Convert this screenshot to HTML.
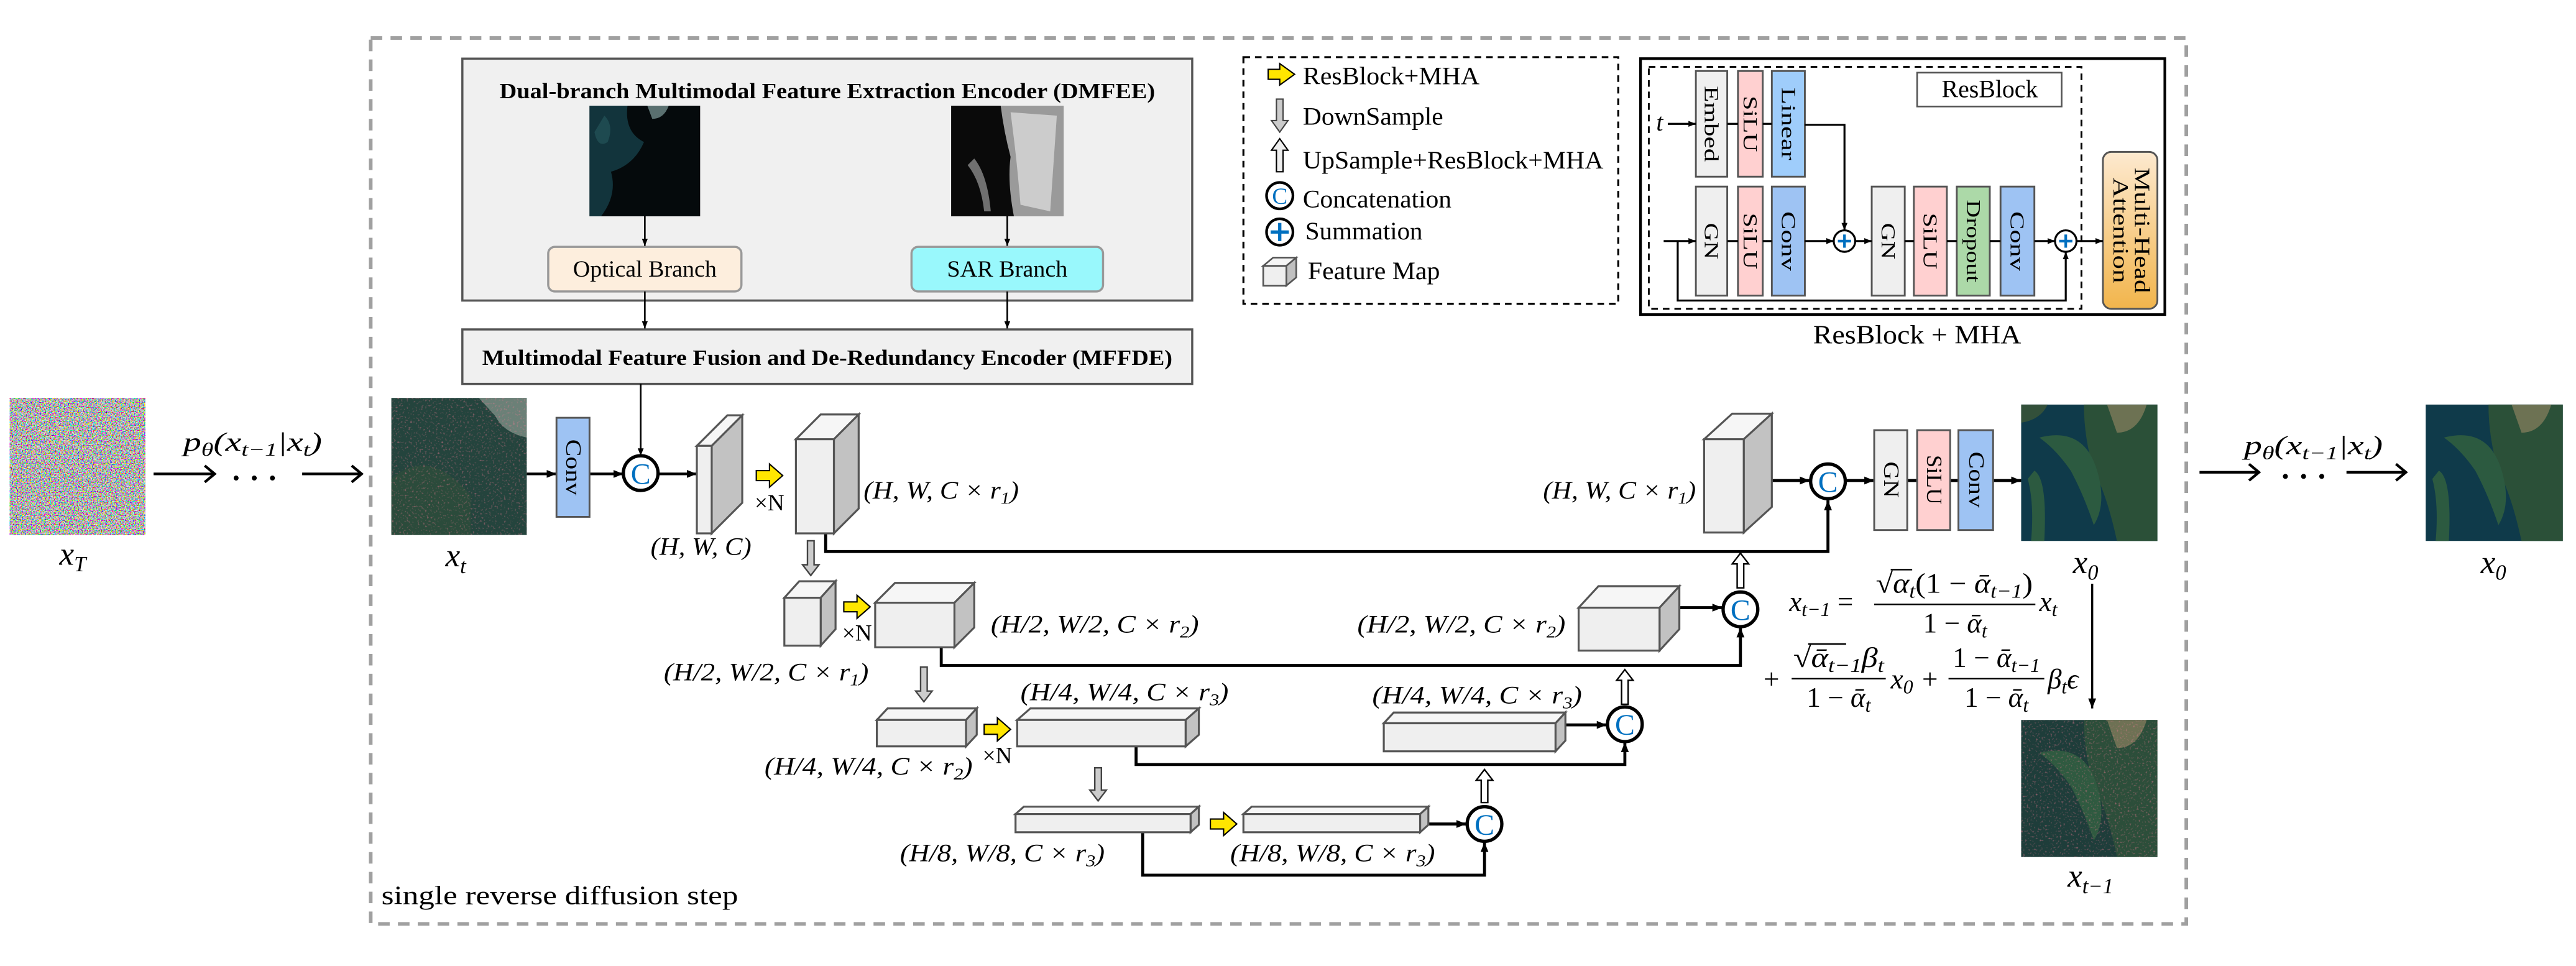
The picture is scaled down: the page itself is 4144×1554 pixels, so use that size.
<!DOCTYPE html>
<html><head><meta charset="utf-8"><style>
html,body{margin:0;padding:0;background:#fff;}
svg{display:block;font-family:"Liberation Serif",serif;}
text{font-family:"Liberation Serif",serif;}
.m{font-style:italic;}
</style></head><body>
<svg width="4144" height="1554" viewBox="0 0 1560 585" xmlns="http://www.w3.org/2000/svg" font-family="Liberation Serif, serif">
<defs>
<marker id="a" viewBox="0 0 10 10" refX="10" refY="5" markerWidth="6" markerHeight="6" markerUnits="userSpaceOnUse" orient="auto"><path d="M0,1 L10,5 L0,9z" fill="#000"/></marker>
<marker id="s" viewBox="0 0 10 10" refX="10" refY="5" markerWidth="4.5" markerHeight="4.5" markerUnits="userSpaceOnUse" orient="auto"><path d="M0,1 L10,5 L0,9z" fill="#000"/></marker>
<filter id="nz" x="0" y="0" width="100%" height="100%"><feTurbulence type="fractalNoise" baseFrequency="1.3" numOctaves="1" seed="4"/><feColorMatrix type="matrix" values="3.2 -0.6 -0.6 0 -0.5  -0.6 3.2 -0.6 0 -0.5  -0.6 -0.6 3.2 0 -0.5  0 0 0 0 1"/></filter>
<filter id="sp" x="0" y="0" width="100%" height="100%"><feTurbulence type="fractalNoise" baseFrequency="0.9" numOctaves="1" seed="7"/><feColorMatrix type="matrix" values="0 0 0 0 0.85  0 0 0 0 0.2  0 0 0 0 0.3  3 0 0 0 -1.7"/></filter>
<linearGradient id="og" x1="0" y1="0" x2="0" y2="1"><stop offset="0" stop-color="#fde9cf"/><stop offset="1" stop-color="#f2b54c"/></linearGradient>
</defs>

<rect x="224.5" y="23" width="1099.5" height="536.5" fill="none" stroke="#a0a0a0" stroke-width="2.2" stroke-dasharray="7,5"/>

<!-- DMFEE -->
<rect x="280" y="35.5" width="442" height="146.5" fill="#f0f0f0" stroke="#555" stroke-width="1.3"/>
<text x="501" y="59.5" text-anchor="middle" font-weight="bold" font-size="13" textLength="397" lengthAdjust="spacingAndGlyphs">Dual-branch Multimodal Feature Extraction Encoder (DMFEE)</text>
<rect x="357" y="64" width="67" height="67" fill="#050a0c"/>
<path d="M357,64 L380,64 Q378,80 390,86 Q384,100 370,104 Q374,118 364,131 L357,131Z" fill="#12343c"/>
<path d="M392,64 L405,64 Q402,72 395,72Z" fill="#5a7070"/>
<path d="M366,70 Q372,76 368,86 Q362,90 360,80Z" fill="#1e4a50"/>
<rect x="576" y="64" width="68" height="67" fill="#0a0a0a"/>
<path d="M606,64 L644,64 L644,131 L614,131 Q610,110 612,95 Q608,80 606,64Z" fill="#9a9a9a"/>
<path d="M612,68 L640,70 L636,128 L618,124 Q616,100 614,84Z" fill="#d8d8d8" opacity="0.8"/>
<path d="M586,100 Q594,110 596,128 L600,128 Q598,106 590,96Z" fill="#707070"/>
<line x1="390.5" y1="131" x2="390.5" y2="149" stroke="#000" stroke-width="1" marker-end="url(#s)"/>
<line x1="610" y1="131" x2="610" y2="149" stroke="#000" stroke-width="1" marker-end="url(#s)"/>
<rect x="332" y="149.5" width="117" height="27" rx="4" fill="#fdeedd" stroke="#999" stroke-width="1.3"/>
<text x="390.5" y="167.5" text-anchor="middle" font-size="14" textLength="87" lengthAdjust="spacingAndGlyphs">Optical Branch</text>
<rect x="552" y="149.5" width="116" height="27" rx="4" fill="#99f8fc" stroke="#999" stroke-width="1.3"/>
<text x="610" y="167.5" text-anchor="middle" font-size="14" textLength="73" lengthAdjust="spacingAndGlyphs">SAR Branch</text>
<line x1="390.5" y1="176.5" x2="390.5" y2="199" stroke="#000" stroke-width="1" marker-end="url(#s)"/>
<line x1="610" y1="176.5" x2="610" y2="199" stroke="#000" stroke-width="1" marker-end="url(#s)"/>
<rect x="280" y="199.5" width="442" height="33" fill="#f0f0f0" stroke="#555" stroke-width="1.3"/>
<text x="501" y="221" text-anchor="middle" font-weight="bold" font-size="13" textLength="418" lengthAdjust="spacingAndGlyphs">Multimodal Feature Fusion and De-Redundancy Encoder (MFFDE)</text>

<!-- Legend -->
<rect x="753" y="34.6" width="227" height="149.4" fill="none" stroke="#000" stroke-width="1.2" stroke-dasharray="4,3"/>
<polygon points="768,42 775,42 775,38.5 784,45 775,51.5 775,48 768,48" fill="#ffe600" stroke="#000" stroke-width="0.8"/>
<text x="789" y="51" font-size="15" textLength="107" lengthAdjust="spacingAndGlyphs">ResBlock+MHA</text>
<polygon points="773,60 777,60 777,73 780,73 775,80 770,73 773,73" fill="#ccc" stroke="#444" stroke-width="0.8"/>
<text x="789" y="75.5" font-size="15" textLength="85" lengthAdjust="spacingAndGlyphs">DownSample</text>
<polygon points="775,84 780,91 777,91 777,104 773,104 773,91 770,91" fill="#eee" stroke="#000" stroke-width="0.8"/>
<text x="789" y="102" font-size="15" textLength="182" lengthAdjust="spacingAndGlyphs">UpSample+ResBlock+MHA</text>
<circle cx="775" cy="118.5" r="8" fill="#fff" stroke="#000" stroke-width="1.6"/>
<text x="775" y="123.5" text-anchor="middle" font-size="14" fill="#0070c0">C</text>
<text x="789" y="125.5" font-size="15" textLength="90" lengthAdjust="spacingAndGlyphs">Concatenation</text>
<circle cx="775" cy="140.5" r="8" fill="#fff" stroke="#000" stroke-width="1.6"/>
<path d="M769.5,140.5 H780.5 M775,135 V146" stroke="#0070c0" stroke-width="2"/>
<text x="790.5" y="145" font-size="15" textLength="71" lengthAdjust="spacingAndGlyphs">Summation</text>
<polygon points="765,161 771,156 785,156 779,161" fill="#f5f5f5" stroke="#555" stroke-width="1"/>
<polygon points="779,161 785,156 785,168 779,173" fill="#c0c0c0" stroke="#555" stroke-width="1"/>
<rect x="765" y="161" width="14" height="12" fill="#efefef" stroke="#555" stroke-width="1"/>
<text x="792" y="169" font-size="15" textLength="80" lengthAdjust="spacingAndGlyphs">Feature Map</text>

<!-- ResBlock + MHA -->
<rect x="993.5" y="35.5" width="317.5" height="155" fill="none" stroke="#000" stroke-width="1.6"/>
<rect x="998.5" y="40.5" width="262" height="146.5" fill="none" stroke="#000" stroke-width="1.1" stroke-dasharray="4,3"/>
<rect x="1161" y="44" width="87.5" height="20.5" fill="#fff" stroke="#555" stroke-width="1"/>
<text x="1205" y="59" text-anchor="middle" font-size="15">ResBlock</text>
<g stroke="#555" stroke-width="1.1">
<rect x="1027" y="43" width="19" height="64" fill="#efefef"/>
<rect x="1052.5" y="43" width="15" height="64" fill="#ffd0d0"/>
<rect x="1073" y="43" width="20" height="64" fill="#9fcdfb"/>
<rect x="1027" y="113" width="19" height="66" fill="#efefef"/>
<rect x="1052.5" y="113" width="15" height="66" fill="#ffd0d0"/>
<rect x="1073" y="113" width="20" height="66" fill="#9ec3f3"/>
<rect x="1133.5" y="113" width="20" height="66" fill="#efefef"/>
<rect x="1159" y="113" width="20" height="66" fill="#ffd0d0"/>
<rect x="1185" y="113" width="20" height="66" fill="#acd9a8"/>
<rect x="1211.5" y="113" width="20.5" height="66" fill="#9ec3f3"/>
</g>
<rect x="1273.5" y="92" width="33" height="95" rx="5" fill="url(#og)" stroke="#555" stroke-width="1.1"/>
<g font-size="12" text-anchor="middle">
<text transform="translate(1036.5,75) rotate(90)" y="4" textLength="46" lengthAdjust="spacingAndGlyphs">Embed</text>
<text transform="translate(1060,75) rotate(90)" y="4" textLength="34" lengthAdjust="spacingAndGlyphs">SiLU</text>
<text transform="translate(1083,75) rotate(90)" y="4" textLength="44" lengthAdjust="spacingAndGlyphs">Linear</text>
<text transform="translate(1036.5,146) rotate(90)" y="4" textLength="22" lengthAdjust="spacingAndGlyphs">GN</text>
<text transform="translate(1060,146) rotate(90)" y="4" textLength="34" lengthAdjust="spacingAndGlyphs">SiLU</text>
<text transform="translate(1083,146) rotate(90)" y="4" textLength="36" lengthAdjust="spacingAndGlyphs">Conv</text>
<text transform="translate(1143.5,146) rotate(90)" y="4" textLength="22" lengthAdjust="spacingAndGlyphs">GN</text>
<text transform="translate(1169,146) rotate(90)" y="4" textLength="34" lengthAdjust="spacingAndGlyphs">SiLU</text>
<text transform="translate(1195,146) rotate(90)" y="4" textLength="50" lengthAdjust="spacingAndGlyphs">Dropout</text>
<text transform="translate(1221.7,146) rotate(90)" y="4" textLength="36" lengthAdjust="spacingAndGlyphs">Conv</text>
<text transform="translate(1290,139.5) rotate(90)" y="-3" font-size="13" textLength="76" lengthAdjust="spacingAndGlyphs">Multi-Head</text>
<text transform="translate(1290,139.5) rotate(90)" y="10" font-size="13" textLength="64" lengthAdjust="spacingAndGlyphs">Attention</text>
</g>
<text x="1003" y="79" class="m" font-size="15">t</text>
<g stroke="#000" stroke-width="1.2" fill="none">
<line x1="1010" y1="75" x2="1027" y2="75" marker-end="url(#s)"/>
<line x1="1046" y1="75" x2="1052.5" y2="75"/>
<line x1="1067.5" y1="75" x2="1073" y2="75"/>
<polyline points="1093,75.6 1117,75.6 1117,139.5" marker-end="url(#s)"/>
<line x1="1007.5" y1="146" x2="1027" y2="146" marker-end="url(#s)"/>
<line x1="1046" y1="146" x2="1052.5" y2="146"/>
<line x1="1067.5" y1="146" x2="1073" y2="146"/>
<line x1="1093" y1="146" x2="1110.5" y2="146" marker-end="url(#s)"/>
<line x1="1123.5" y1="146" x2="1133.5" y2="146" marker-end="url(#s)"/>
<line x1="1153.5" y1="146" x2="1159" y2="146"/>
<line x1="1179" y1="146" x2="1185" y2="146"/>
<line x1="1205" y1="146" x2="1211.5" y2="146"/>
<line x1="1232" y1="146" x2="1244.5" y2="146" marker-end="url(#s)"/>
<line x1="1257.5" y1="146" x2="1273.5" y2="146" marker-end="url(#s)"/>
<polyline points="1016,146 1016,182 1251,182 1251,152.5" marker-end="url(#s)"/>
</g>
<circle cx="1117" cy="146" r="6.5" fill="#fff" stroke="#000" stroke-width="1.2"/>
<path d="M1113,146 H1121 M1117,142 V150" stroke="#0070c0" stroke-width="1.6"/>
<circle cx="1251" cy="146" r="6.5" fill="#fff" stroke="#000" stroke-width="1.2"/>
<path d="M1247,146 H1255 M1251,142 V150" stroke="#0070c0" stroke-width="1.6"/>
<text x="1161" y="208" text-anchor="middle" font-size="16" textLength="126" lengthAdjust="spacingAndGlyphs">ResBlock + MHA</text>

<!-- x_T noise -->
<rect x="6" y="241" width="82" height="83" fill="#888" filter="url(#nz)"/>
<text x="44" y="342" text-anchor="middle" class="m" font-size="20">x<tspan font-size="13" dy="4">T</tspan></text>
<text x="111" y="273" class="m" font-size="16" textLength="84" lengthAdjust="spacingAndGlyphs">p<tspan font-size="11" dy="3">θ</tspan><tspan dy="-3">(x</tspan><tspan font-size="11" dy="3">t−1</tspan><tspan dy="-3">|x</tspan><tspan font-size="11" dy="3">t</tspan><tspan dy="-3">)</tspan></text>
<g stroke="#000" stroke-width="1.6" fill="none">
<line x1="93" y1="287" x2="130" y2="287"/><polyline points="124,282 130,287 124,292"/>
<line x1="183" y1="287" x2="219" y2="287"/><polyline points="213,282 219,287 213,292"/>
</g>
<g fill="#000"><circle cx="143" cy="289.5" r="1.5"/><circle cx="154" cy="289.5" r="1.5"/><circle cx="165" cy="289.5" r="1.5"/></g>

<!-- x_t -->
<rect x="237" y="241" width="82" height="83" fill="#24443d"/>
<path d="M290,241 L319,241 L319,265 Q305,262 300,252Z" fill="#8a9a90" opacity="0.7"/>
<path d="M237,290 Q260,270 285,300 L285,324 L237,324Z" fill="#2d4d3b" opacity="0.8"/>
<rect x="237" y="241" width="82" height="83" fill="#000" filter="url(#sp)" opacity="0.7"/>
<text x="276" y="343" text-anchor="middle" class="m" font-size="20">x<tspan font-size="13" dy="4">t</tspan></text>

<g stroke="#000" stroke-width="1.6" fill="none">
<line x1="319" y1="287" x2="337" y2="287" marker-end="url(#a)"/>
<line x1="357" y1="287" x2="377.5" y2="287" marker-end="url(#a)"/>
<line x1="398.5" y1="287" x2="422" y2="287" marker-end="url(#a)"/>
<line x1="388" y1="232.5" x2="388" y2="276" stroke-width="1" marker-end="url(#s)"/>
</g>
<rect x="337" y="253" width="20" height="60" fill="#9ec3f3" stroke="#555" stroke-width="1.1"/>
<text transform="translate(347,283) rotate(90)" y="4" text-anchor="middle" font-size="13" textLength="34" lengthAdjust="spacingAndGlyphs">Conv</text>
<circle cx="388" cy="286.5" r="10.5" fill="#fff" stroke="#000" stroke-width="2"/>
<text x="388" y="293" text-anchor="middle" font-size="18" fill="#0070c0">C</text>

<g stroke="#000" stroke-width="1.8" fill="none">
<polyline points="500,323 500,334 1107,334 1107,303" marker-end="url(#a)"/>
<polyline points="570,392 570,403 1054,403 1054,380" marker-end="url(#a)"/>
<polyline points="688,452 688,463 984,463 984,449.5" marker-end="url(#a)"/>
<polyline points="692,504 692,530 899,530 899,510" marker-end="url(#a)"/>
<line x1="1017" y1="368" x2="1043" y2="368" marker-end="url(#a)"/>
<line x1="948" y1="439" x2="973" y2="439" marker-end="url(#a)"/>
<line x1="865" y1="499" x2="888" y2="499" marker-end="url(#a)"/>
<line x1="1073" y1="291" x2="1096" y2="291" marker-end="url(#a)"/>
<line x1="1118" y1="291" x2="1135" y2="291" marker-end="url(#a)"/>
<line x1="1155" y1="291" x2="1161" y2="291"/>
<line x1="1181" y1="291" x2="1186" y2="291"/>
<line x1="1207" y1="291" x2="1224" y2="291" marker-end="url(#a)"/>
<line x1="1267" y1="353.5" x2="1267" y2="429" stroke-width="1.3" marker-end="url(#a)"/>
</g>

<g stroke="#555" stroke-width="1.2">
<g><polygon points="422,270 440.5,251.5 449.5,251.5 431,270" fill="#f6f6f6"/><polygon points="431,270 449.5,251.5 449.5,304.5 431,323" fill="#c2c2c2"/><rect x="422" y="270" width="9" height="53" fill="#efefef"/></g>
<g><polygon points="482,266 497,251 520,251 505,266" fill="#f6f6f6"/><polygon points="505,266 520,251 520,308 505,323" fill="#c2c2c2"/><rect x="482" y="266" width="23" height="57" fill="#efefef"/></g>
<g><polygon points="475,362 484,352 506,352 497,362" fill="#f6f6f6"/><polygon points="497,362 506,352 506,381 497,391" fill="#c2c2c2"/><rect x="475" y="362" width="22" height="29" fill="#efefef"/></g>
<g><polygon points="530,365 542,353 590,353 578,365" fill="#f6f6f6"/><polygon points="578,365 590,353 590,380 578,392" fill="#c2c2c2"/><rect x="530" y="365" width="48" height="27" fill="#efefef"/></g>
<g><polygon points="956,368 968,355 1017,355 1005,368" fill="#f6f6f6"/><polygon points="1005,368 1017,355 1017,381 1005,394" fill="#c2c2c2"/><rect x="956" y="368" width="49" height="26" fill="#efefef"/></g>
<g><polygon points="531,436 537.5,429 591.5,429 585,436" fill="#f6f6f6"/><polygon points="585,436 591.5,429 591.5,445 585,452" fill="#c2c2c2"/><rect x="531" y="436" width="54" height="16" fill="#efefef"/></g>
<g><polygon points="616,436 624,429 726,429 718,436" fill="#f6f6f6"/><polygon points="718,436 726,429 726,445 718,452" fill="#c2c2c2"/><rect x="616" y="436" width="102" height="16" fill="#efefef"/></g>
<g><polygon points="838,438 844,431.5 948,431.5 942,438" fill="#f6f6f6"/><polygon points="942,438 948,431.5 948,448.5 942,455" fill="#c2c2c2"/><rect x="838" y="438" width="104" height="17" fill="#efefef"/></g>
<g><polygon points="615,493 620,488.5 726,488.5 721,493" fill="#f6f6f6"/><polygon points="721,493 726,488.5 726,499.5 721,504" fill="#c2c2c2"/><rect x="615" y="493" width="106" height="11" fill="#efefef"/></g>
<g><polygon points="753,493 758,488.5 865,488.5 860,493" fill="#f6f6f6"/><polygon points="860,493 865,488.5 865,499.5 860,504" fill="#c2c2c2"/><rect x="753" y="493" width="107" height="11" fill="#efefef"/></g>
<g><polygon points="1032,266 1049,250.5 1073,250.5 1056,266" fill="#f6f6f6"/><polygon points="1056,266 1073,250.5 1073,307 1056,322.5" fill="#c2c2c2"/><rect x="1032" y="266" width="24" height="56.5" fill="#efefef"/></g>
</g>

<g fill="#ffe600" stroke="#000" stroke-width="0.8">
<polygon points="458,285 466,285 466,281 474,288 466,295 466,291 458,291"/>
<polygon points="511,364.5 519,364.5 519,360.5 527,367.5 519,374.5 519,370.5 511,370.5"/>
<polygon points="596,438.7 604,438.7 604,434.7 612,441.7 604,448.7 604,444.7 596,444.7"/>
<polygon points="733,496 741,496 741,492 749,499 741,506 741,502 733,502"/>
</g>
<g font-size="14"><text x="457" y="309">×N</text><text x="510" y="388">×N</text><text x="595" y="462">×N</text></g>

<g fill="#ccc" stroke="#444" stroke-width="0.9">
<polygon points="489,327.5 493,327.5 493,342 496,342 491,348.5 486,342 489,342"/>
<polygon points="557.5,404 561.5,404 561.5,418.5 564.5,418.5 559.5,425 554.5,418.5 557.5,418.5"/>
<polygon points="663,465 667,465 667,478.5 670,478.5 665,485 660,478.5 663,478.5"/>
</g>
<g fill="#fff" stroke="#000" stroke-width="0.9">
<polygon points="1054,335 1059,341.5 1056,341.5 1056,356 1052,356 1052,341.5 1049,341.5"/>
<polygon points="984,405.5 989,412 986,412 986,426.5 982,426.5 982,412 979,412"/>
<polygon points="899,466 904,472.5 901,472.5 901,486 897,486 897,472.5 894,472.5"/>
</g>

<g>
<circle cx="1107" cy="291.5" r="10.5" fill="#fff" stroke="#000" stroke-width="2"/><text x="1107" y="298" text-anchor="middle" font-size="18" fill="#0070c0">C</text>
<circle cx="1054" cy="369" r="10.5" fill="#fff" stroke="#000" stroke-width="2"/><text x="1054" y="375.5" text-anchor="middle" font-size="18" fill="#0070c0">C</text>
<circle cx="984" cy="438.6" r="10.5" fill="#fff" stroke="#000" stroke-width="2"/><text x="984" y="445" text-anchor="middle" font-size="18" fill="#0070c0">C</text>
<circle cx="899" cy="499" r="10.5" fill="#fff" stroke="#000" stroke-width="2"/><text x="899" y="505.5" text-anchor="middle" font-size="18" fill="#0070c0">C</text>
</g>

<g class="m" font-size="15">
<text x="394" y="336" textLength="61" lengthAdjust="spacingAndGlyphs">(H, W, C)</text>
<text x="523" y="302" textLength="94" lengthAdjust="spacingAndGlyphs">(H, W, C × r<tspan font-size="10" dy="3">1</tspan><tspan dy="-3">)</tspan></text>
<text x="934.5" y="302" textLength="92.5" lengthAdjust="spacingAndGlyphs">(H, W, C × r<tspan font-size="10" dy="3">1</tspan><tspan dy="-3">)</tspan></text>
<text x="402" y="412" textLength="124" lengthAdjust="spacingAndGlyphs">(H/2, W/2, C × r<tspan font-size="10" dy="3">1</tspan><tspan dy="-3">)</tspan></text>
<text x="600" y="383" textLength="126" lengthAdjust="spacingAndGlyphs">(H/2, W/2, C × r<tspan font-size="10" dy="3">2</tspan><tspan dy="-3">)</tspan></text>
<text x="822" y="383" textLength="126" lengthAdjust="spacingAndGlyphs">(H/2, W/2, C × r<tspan font-size="10" dy="3">2</tspan><tspan dy="-3">)</tspan></text>
<text x="618" y="424" textLength="126" lengthAdjust="spacingAndGlyphs">(H/4, W/4, C × r<tspan font-size="10" dy="3">3</tspan><tspan dy="-3">)</tspan></text>
<text x="463" y="469" textLength="126" lengthAdjust="spacingAndGlyphs">(H/4, W/4, C × r<tspan font-size="10" dy="3">2</tspan><tspan dy="-3">)</tspan></text>
<text x="831" y="426" textLength="127" lengthAdjust="spacingAndGlyphs">(H/4, W/4, C × r<tspan font-size="10" dy="3">3</tspan><tspan dy="-3">)</tspan></text>
<text x="545" y="521.5" textLength="124" lengthAdjust="spacingAndGlyphs">(H/8, W/8, C × r<tspan font-size="10" dy="3">3</tspan><tspan dy="-3">)</tspan></text>
<text x="745" y="521.5" textLength="124" lengthAdjust="spacingAndGlyphs">(H/8, W/8, C × r<tspan font-size="10" dy="3">3</tspan><tspan dy="-3">)</tspan></text>
</g>

<g stroke="#555" stroke-width="1.1">
<rect x="1135" y="260.5" width="20" height="60.5" fill="#efefef"/>
<rect x="1161" y="260.5" width="20" height="60.5" fill="#ffd0d0"/>
<rect x="1186" y="260.5" width="21" height="60.5" fill="#9ec3f3"/>
</g>
<g font-size="13" text-anchor="middle">
<text transform="translate(1145,290.5) rotate(90)" y="4" textLength="22" lengthAdjust="spacingAndGlyphs">GN</text>
<text transform="translate(1171,290.5) rotate(90)" y="4" textLength="30" lengthAdjust="spacingAndGlyphs">SiLU</text>
<text transform="translate(1196.5,290.5) rotate(90)" y="4" textLength="34" lengthAdjust="spacingAndGlyphs">Conv</text>
</g>

<g>
<rect x="1224" y="245" width="82.5" height="82.6" fill="#0f3a4a"/>
<path d="M1262,245 L1306.5,245 L1306.5,327.6 L1282,327.6 Q1276,300 1268,285 Q1262,265 1262,245Z" fill="#2b5038"/>
<path d="M1235,265 Q1262,258 1270,285 Q1276,305 1268,318 Q1262,300 1254,285 Q1245,272 1235,265Z" fill="#2c5a40"/>
<path d="M1232,285 Q1240,290 1238,327.6 L1230,327.6 Q1232,305 1228,290Z" fill="#2c5a40"/>
<path d="M1224,245 L1240,245 Q1236,254 1224,256Z" fill="#33503a"/>
<path d="M1276,245 L1300,245 Q1295,262 1282,262Z" fill="#8a8060" opacity="0.7"/>
</g>
<text x="1263" y="347" text-anchor="middle" class="m" font-size="20">x<tspan font-size="13" dy="4">0</tspan></text>

<g>
<rect x="1224" y="436" width="82.5" height="83" fill="#1e3d3a"/>
<path d="M1262,436 L1306.5,436 L1306.5,519 L1282,519 Q1276,490 1268,476 Q1262,456 1262,436Z" fill="#2c4e3a"/>
<path d="M1235,456 Q1262,449 1270,476 Q1276,496 1268,509 Q1262,491 1254,476 Q1245,463 1235,456Z" fill="#2f5a40"/>
<path d="M1276,436 L1300,436 Q1295,453 1282,453Z" fill="#8a8060" opacity="0.7"/>
<rect x="1224" y="436" width="82.5" height="83" fill="#000" filter="url(#sp)" opacity="0.7"/>
</g>
<text x="1266" y="537" text-anchor="middle" class="m" font-size="20">x<tspan font-size="13" dy="4">t−1</tspan></text>

<!-- formula -->
<g font-size="17">
<text x="1083.5" y="370" class="m">x<tspan font-size="12" dy="3">t−1</tspan><tspan dy="-3" font-style="normal"> =</tspan></text>
<text x="1136" y="359" textLength="95" lengthAdjust="spacingAndGlyphs">√<tspan class="m">α</tspan><tspan class="m" font-size="12" dy="3">t</tspan><tspan dy="-3">(1 − </tspan><tspan class="m">ᾱ</tspan><tspan class="m" font-size="12" dy="3">t−1</tspan><tspan dy="-3">)</tspan></text>
<line x1="1145" y1="345" x2="1158" y2="345" stroke="#000" stroke-width="0.9"/>
<line x1="1135" y1="366" x2="1232.6" y2="366" stroke="#000" stroke-width="0.9"/>
<text x="1184" y="383" text-anchor="middle">1 − <tspan class="m">ᾱ</tspan><tspan class="m" font-size="12" dy="3">t</tspan></text>
<text x="1235" y="370" class="m">x<tspan font-size="12" dy="3">t</tspan></text>
<text x="1068" y="417">+</text>
<text x="1086" y="404" textLength="55" lengthAdjust="spacingAndGlyphs">√<tspan class="m">ᾱ</tspan><tspan class="m" font-size="12" dy="3">t−1</tspan><tspan class="m" dy="-3">β</tspan><tspan class="m" font-size="12" dy="3">t</tspan></text>
<line x1="1095" y1="390" x2="1118" y2="390" stroke="#000" stroke-width="0.9"/>
<line x1="1085" y1="411" x2="1142" y2="411" stroke="#000" stroke-width="0.9"/>
<text x="1113.5" y="428" text-anchor="middle">1 − <tspan class="m">ᾱ</tspan><tspan class="m" font-size="12" dy="3">t</tspan></text>
<text x="1145" y="417" class="m">x<tspan font-size="12" dy="3">0</tspan></text>
<text x="1164" y="417">+</text>
<text x="1209" y="404" text-anchor="middle">1 − <tspan class="m">ᾱ</tspan><tspan class="m" font-size="12" dy="3">t−1</tspan></text>
<line x1="1180" y1="411" x2="1238" y2="411" stroke="#000" stroke-width="0.9"/>
<text x="1209" y="428" text-anchor="middle">1 − <tspan class="m">ᾱ</tspan><tspan class="m" font-size="12" dy="3">t</tspan></text>
<text x="1240" y="417" class="m">β<tspan font-size="12" dy="3">t</tspan><tspan dy="-3">ϵ</tspan></text>
</g>

<text x="1359" y="275" class="m" font-size="16" textLength="84" lengthAdjust="spacingAndGlyphs">p<tspan font-size="11" dy="3">θ</tspan><tspan dy="-3">(x</tspan><tspan font-size="11" dy="3">t−1</tspan><tspan dy="-3">|x</tspan><tspan font-size="11" dy="3">t</tspan><tspan dy="-3">)</tspan></text>
<g stroke="#000" stroke-width="1.6" fill="none">
<line x1="1332" y1="286" x2="1368" y2="286"/><polyline points="1362,281 1368,286 1362,291"/>
<line x1="1421" y1="286" x2="1457" y2="286"/><polyline points="1451,281 1457,286 1451,291"/>
</g>
<g fill="#000"><circle cx="1384" cy="288.5" r="1.5"/><circle cx="1395" cy="288.5" r="1.5"/><circle cx="1406" cy="288.5" r="1.5"/></g>
<g>
<rect x="1469" y="245" width="83" height="82.6" fill="#0f3a4a"/>
<path d="M1507,245 L1552,245 L1552,327.6 L1527,327.6 Q1521,300 1513,285 Q1507,265 1507,245Z" fill="#2b5038"/>
<path d="M1480,265 Q1507,258 1515,285 Q1521,305 1513,318 Q1507,300 1499,285 Q1490,272 1480,265Z" fill="#2c5a40"/>
<path d="M1477,285 Q1485,290 1483,327.6 L1475,327.6 Q1477,305 1473,290Z" fill="#2c5a40"/>
<path d="M1521,245 L1545,245 Q1540,262 1527,262Z" fill="#8a8060" opacity="0.7"/>
</g>
<text x="1510" y="347" text-anchor="middle" class="m" font-size="20">x<tspan font-size="13" dy="4">0</tspan></text>

<text x="231" y="547.5" font-size="16" textLength="216" lengthAdjust="spacingAndGlyphs">single reverse diffusion step</text>
</svg>
</body></html>
